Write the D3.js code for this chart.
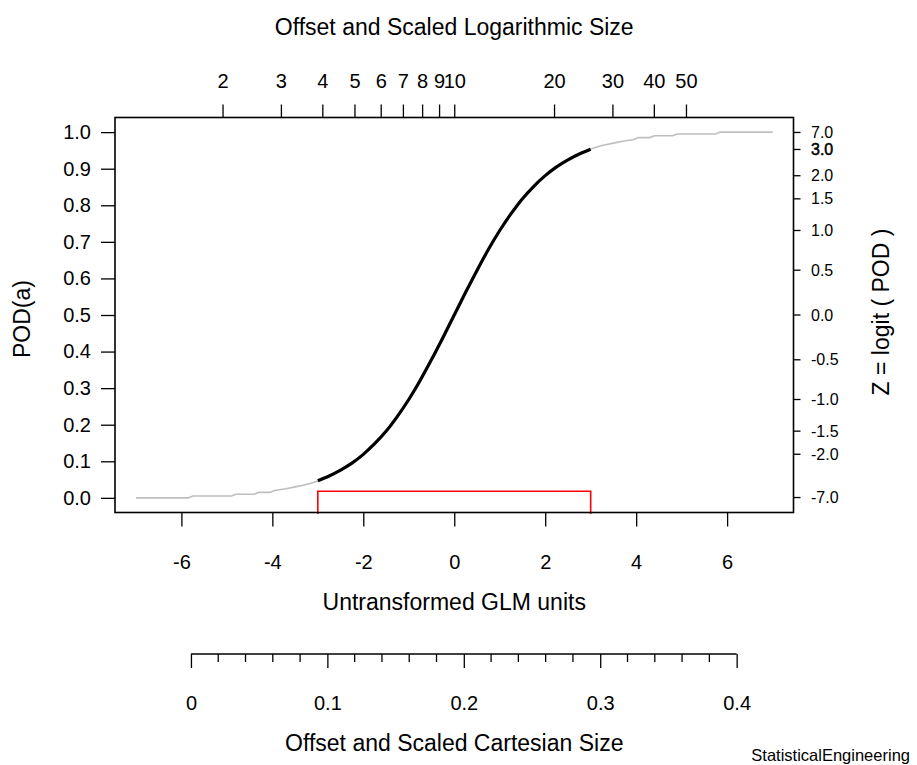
<!DOCTYPE html>
<html>
<head>
<meta charset="utf-8">
<script src="https://cdn.jsdelivr.net/npm/d3@7"></script>
<style>
  body { margin: 0; background: #fff; }
  svg { display: block; font-family: "Liberation Sans", Arial, sans-serif; }
</style>
</head>
<body>
<div id="graph"></div>
<script>
"use strict";

// Fitted POD curve (black)
const fitX = [-3, -2.75, -2.5, -2.25, -2, -1.75, -1.5, -1.25, -1, -0.75, -0.5, -0.25, 0,
  0.25, 0.5, 0.75, 1, 1.25, 1.5, 1.75, 2, 2.25, 2.5, 2.75, 3];
const fitPod = [0.047, 0.06, 0.076, 0.095, 0.119, 0.148, 0.182, 0.223, 0.269, 0.321, 0.378, 0.438, 0.5,
  0.562, 0.622, 0.679, 0.731, 0.777, 0.818, 0.852, 0.881, 0.905, 0.924, 0.94, 0.953];

// Extrapolated tails (gray)
const lowX = [-7, -5.85, -5.75, -4.9, -4.8, -4.4, -4.3, -4.05, -3.95, -3.7, -3.5, -3.3, -3.15, -3];
const lowPod = [0, 0, 0.005, 0.005, 0.01, 0.01, 0.015, 0.015, 0.02, 0.025, 0.03, 0.035, 0.04, 0.046];
const highX = [3, 3.15, 3.3, 3.5, 3.7, 3.95, 4.05, 4.3, 4.4, 4.8, 4.9, 5.75, 5.85, 7];
const highPod = [0.954, 0.96, 0.965, 0.97, 0.975, 0.98, 0.985, 0.985, 0.99, 0.99, 0.995, 0.995, 1, 1];

// Range of the data (red bracket)
const bracketX = [-3, 3];
const bracketLevel = 0.018;
const bracketBase = -0.044;

// Tick values
const xTicks = [-6, -4, -2, 0, 2, 4, 6];
const yTicks = [0, 0.1, 0.2, 0.3, 0.4, 0.5, 0.6, 0.7, 0.8, 0.9, 1];
const logTicks = [2, 3, 4, 5, 6, 7, 8, 9, 10, 20, 30, 40, 50];
const zTicks = [7, 3, 2, 1.5, 1, 0.5, 0, -0.5, -1, -1.5, -2, -7];
const zBold = [3]; // drawn twice in the original, so it reads heavier
const cartTicks = [0, 0.1, 0.2, 0.3, 0.4];
const cartMinor = [0.02, 0.04, 0.06, 0.08, 0.12, 0.14, 0.16, 0.18, 0.22, 0.24, 0.26, 0.28,
  0.32, 0.34, 0.36, 0.38];

// Secondary axes in GLM units
const logCenter = 10;      // size at GLM 0
const logDecade = 7.29;    // GLM units per decade
const cartOffset = -5.79;  // GLM value at cartesian 0
const cartSpan = 30;       // GLM units per cartesian unit

const w = 917;
const h = 765;
const box = { left: 115, right: 793.5, top: 117.5, bottom: 512.5 };
const tickFont = 20;
const titleFont = 23;

const svg = d3.select("#graph").append("svg").attr("width", w).attr("height", h);

const x = d3.scaleLinear().domain([-7.46, 7.46]).range([box.left, box.right]);
const y = d3.scaleLinear().domain([-0.04, 1.04]).range([box.bottom, box.top]);
const logScale = d3.scaleLog()
  .domain([logCenter / 10, logCenter * 10])
  .range([x(-logDecade), x(logDecade)]);
const cart = d3.scaleLinear()
  .domain([0, 1])
  .range([x(cartOffset), x(cartOffset + cartSpan)]);

const styleAxis = (g, size) => {
  g.attr("font-size", size).attr("font-family", null);
  g.selectAll(".tick line").attr("stroke", "#000").attr("stroke-width", 1.3);
  g.selectAll(".tick text").attr("fill", "#000");
};

// Bottom axis
svg.append("g")
  .attr("transform", `translate(0, ${box.bottom})`)
  .call(d3.axisBottom(x).tickValues(xTicks).tickSize(14).tickPadding(28.5).tickFormat(d3.format("d")))
  .call((g) => g.select(".domain").remove())
  .call((g) => styleAxis(g, tickFont))
  .selectAll(".tick text")
  .text((d) => (d < 0 ? "-" + Math.abs(d) : d));

// Left axis
svg.append("g")
  .attr("transform", `translate(${box.left}, 0)`)
  .call(d3.axisLeft(y).tickValues(yTicks).tickSize(14).tickPadding(10).tickFormat(d3.format(".1f")))
  .call((g) => g.select(".domain").remove())
  .call((g) => styleAxis(g, tickFont));

// Top log axis
svg.append("g")
  .attr("transform", `translate(0, ${box.top})`)
  .call(d3.axisTop(logScale).tickValues(logTicks).tickSize(13).tickPadding(16.5).tickFormat(d3.format("d")))
  .call((g) => g.select(".domain").remove())
  .call((g) => styleAxis(g, tickFont));

// Right logit axis, drawn by hand
const zPos = (z) => y(1 / (1 + Math.exp(-z)));
const zTick = svg.append("g")
  .selectAll("g")
  .data(zTicks)
  .enter()
  .append("g")
  .attr("transform", (d) => `translate(${box.right}, ${zPos(d)})`);
zTick.append("line").attr("x2", 7).attr("stroke", "#000").attr("stroke-width", 1.3);
zTick.append("text")
  .attr("x", 17.5)
  .attr("dy", "0.35em")
  .attr("font-size", 16)
  .attr("stroke", (d) => (zBold.includes(d) ? "#000" : null))
  .attr("stroke-width", (d) => (zBold.includes(d) ? 0.5 : null))
  .text((d) => (d < 0 ? "-" + d3.format(".1f")(-d) : d3.format(".1f")(d)));

// Cartesian axis below
const cartAxis = svg.append("g").attr("transform", "translate(0, 654)");
cartAxis
  .call(d3.axisBottom(cart).tickValues(cartTicks).tickSize(14).tickSizeOuter(0).tickPadding(28)
    .tickFormat((d) => (d === 0 ? "0" : d3.format(".1f")(d))))
  .call((g) => g.select(".domain").attr("stroke", "#000").attr("stroke-width", 1.3)
    .attr("d", `M${cart(0)},0H${cart(0.4)}`))
  .call((g) => styleAxis(g, tickFont));
cartAxis.selectAll(".minor")
  .data(cartMinor)
  .enter()
  .append("line")
  .attr("class", "minor")
  .attr("x1", (d) => cart(d))
  .attr("x2", (d) => cart(d))
  .attr("y2", 8)
  .attr("stroke", "#000")
  .attr("stroke-width", 1.3);

// Curves
const line = d3.line().x((d) => x(d[0])).y((d) => y(d[1]));
const zip = (a, b) => a.map((v, i) => [v, b[i]]);

svg.append("path")
  .datum(zip(lowX, lowPod))
  .attr("d", line)
  .attr("fill", "none")
  .attr("stroke", "#bebebe")
  .attr("stroke-width", 1.6);
svg.append("path")
  .datum(zip(highX, highPod))
  .attr("d", line)
  .attr("fill", "none")
  .attr("stroke", "#bebebe")
  .attr("stroke-width", 1.6);
svg.append("path")
  .datum(zip(fitX, fitPod))
  .attr("d", line.curve(d3.curveMonotoneX))
  .attr("fill", "none")
  .attr("stroke", "#000")
  .attr("stroke-width", 3.2);

svg.append("path")
  .datum([[bracketX[0], bracketBase], [bracketX[0], bracketLevel], [bracketX[1], bracketLevel], [bracketX[1], bracketBase]])
  .attr("d", d3.line().x((d) => x(d[0])).y((d) => y(d[1])))
  .attr("fill", "none")
  .attr("stroke", "#ff0000")
  .attr("stroke-width", 1.6);

// Plot box
svg.append("rect")
  .attr("x", box.left)
  .attr("y", box.top)
  .attr("width", box.right - box.left)
  .attr("height", box.bottom - box.top)
  .attr("fill", "none")
  .attr("stroke", "#000")
  .attr("stroke-width", 1.6);

// Titles
const midX = (box.left + box.right) / 2;
svg.append("text").attr("x", midX).attr("y", 35).attr("text-anchor", "middle")
  .attr("font-size", titleFont).text("Offset and Scaled Logarithmic Size");
svg.append("text").attr("x", midX).attr("y", 610).attr("text-anchor", "middle")
  .attr("font-size", titleFont).text("Untransformed GLM units");
svg.append("text").attr("x", midX).attr("y", 751).attr("text-anchor", "middle")
  .attr("font-size", titleFont).text("Offset and Scaled Cartesian Size");
svg.append("text").attr("transform", "translate(30, 319) rotate(-90)").attr("text-anchor", "middle")
  .attr("font-size", titleFont).text("POD(a)");
svg.append("text").attr("transform", "translate(889, 312) rotate(-90)").attr("text-anchor", "middle")
  .attr("font-size", titleFont).text("Z = logit ( POD )");
svg.append("text").attr("x", 910).attr("y", 761).attr("text-anchor", "end")
  .attr("font-size", 16.5).text("StatisticalEngineering");
</script>
</body>
</html>
